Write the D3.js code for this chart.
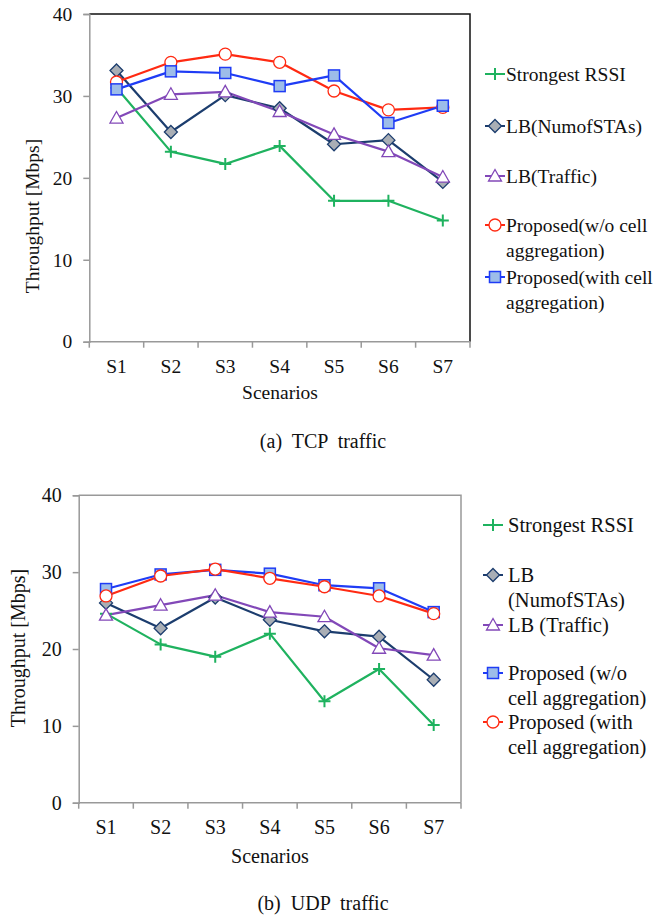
<!DOCTYPE html>
<html>
<head>
<meta charset="utf-8">
<script src="https://cdn.jsdelivr.net/npm/d3@7"></script>
<style>
  html, body { margin: 0; padding: 0; background: #fff; }
  svg { display: block; font-family: "Liberation Serif", "Times New Roman", serif; }
  svg text { font-family: "Liberation Serif", "Times New Roman", serif; }
</style>
</head>
<body>
<svg id="fig" width="653" height="916"></svg>
<script>
// Scenarios on the x axis and throughput ticks on the y axis
const scenarios = ["S1", "S2", "S3", "S4", "S5", "S6", "S7"];
const yTicks = [0, 10, 20, 30, 40];

// (a) TCP traffic, throughput in Mbps
const tcpStrongest = [31.0, 23.2, 21.7, 23.9, 17.2, 17.2, 14.8];
const tcpLbSta     = [33.1, 25.6, 30.1, 28.5, 24.1, 24.6, 19.5];
const tcpLbTraffic = [27.3, 30.2, 30.5, 28.1, 25.3, 23.2, 20.1];
const tcpPropNoAgg = [31.7, 34.1, 35.1, 34.1, 30.6, 28.3, 28.6];
const tcpPropAgg   = [30.8, 33.0, 32.8, 31.2, 32.5, 26.7, 28.8];

// (b) UDP traffic, throughput in Mbps
const udpStrongest = [24.6, 20.6, 19.0, 22.0, 13.2, 17.4, 10.1];
const udpLbSta     = [26.0, 22.7, 26.7, 23.8, 22.3, 21.6, 16.0];
const udpLbTraffic = [24.4, 25.7, 27.0, 24.8, 24.2, 20.1, 19.2];
const udpPropNoAgg = [27.8, 29.7, 30.3, 29.8, 28.3, 27.9, 24.8];
const udpPropAgg   = [26.9, 29.5, 30.4, 29.2, 28.1, 26.9, 24.6];

const tcpLabels = [["Strongest RSSI"], ["LB(NumofSTAs)"], ["LB(Traffic)"],
  ["Proposed(w/o cell", "aggregation)"], ["Proposed(with cell", "aggregation)"]];
const udpLabels = [["Strongest RSSI"], ["LB", "(NumofSTAs)"], ["LB (Traffic)"],
  ["Proposed (w/o", "cell aggregation)"], ["Proposed (with", "cell aggregation)"]];

// marker styles
const STY = {
  plus:    { color: "#1fb25f", fill: "none" },
  diamond: { color: "#1c3d6e", fill: "#a9aeb5" },
  tri:     { color: "#8248b8", fill: "#ffffff" },
  circle:  { color: "#ff2a12", fill: "#ffffff" },
  square:  { color: "#1f3cf5", fill: "#9dbde9" }
};

const svg = d3.select("#fig");

function drawMarker(g, kind, x, y) {
  const s = STY[kind];
  if (kind === "plus") {
    g.append("path").attr("d", `M${x-6},${y}H${x+6}M${x},${y-6}V${y+6}`)
      .attr("stroke", s.color).attr("stroke-width", 2).attr("fill", "none");
  } else if (kind === "diamond") {
    g.append("path").attr("d", `M${x},${y-6.5}L${x+6.5},${y}L${x},${y+6.5}L${x-6.5},${y}Z`)
      .attr("stroke", s.color).attr("stroke-width", 1.3).attr("fill", s.fill);
  } else if (kind === "tri") {
    g.append("path").attr("d", `M${x},${y-6.5}L${x+6.5},${y+5}L${x-6.5},${y+5}Z`)
      .attr("stroke", s.color).attr("stroke-width", 1.3).attr("fill", s.fill);
  } else if (kind === "circle") {
    g.append("circle").attr("cx", x).attr("cy", y).attr("r", 6)
      .attr("stroke", s.color).attr("stroke-width", 1.3).attr("fill", s.fill);
  } else if (kind === "square") {
    g.append("rect").attr("x", x-5.5).attr("y", y-5.5).attr("width", 11).attr("height", 11)
      .attr("stroke", s.color).attr("stroke-width", 1.5).attr("fill", s.fill);
  }
}

function chart(cfg) {
  const g = svg.append("g");
  const x = d3.scaleBand().domain(scenarios).range([cfg.left, cfg.right]);
  const y = d3.scaleLinear().domain([0, 40]).range([cfg.bottom, cfg.top]);
  const FS = cfg.fs;

  // frame: top and right edges
  g.append("path")
    .attr("d", `M${cfg.left},${cfg.top}H${cfg.right}V${cfg.bottom}`)
    .attr("fill", "none").attr("stroke", cfg.frame).attr("stroke-width", 1.5);

  // y axis
  const ya = g.append("g").attr("transform", `translate(${cfg.left},0)`)
    .call(d3.axisLeft(y).tickValues(yTicks).tickSize(6).tickPadding(11));
  ya.attr("font-family", null);
  ya.select(".domain").attr("stroke", "#999").attr("stroke-width", 1.5);
  ya.selectAll(".tick line").attr("stroke", "#999").attr("stroke-width", 1.5);
  ya.selectAll("text").attr("font-size", FS).attr("fill", "#111");

  // x axis with ticks on band boundaries
  const xa = g.append("g").attr("transform", `translate(0,${cfg.bottom})`)
    .call(d3.axisBottom(x).tickSize(0).tickPadding(17));
  xa.attr("font-family", null);
  xa.select(".domain").attr("d", `M${cfg.left},0H${cfg.right}`).attr("stroke", "#999").attr("stroke-width", 1.5);
  xa.selectAll("text").attr("font-size", FS).attr("fill", "#111");
  const edges = scenarios.map(s => x(s)).concat([x(scenarios[scenarios.length - 1]) + x.bandwidth()]);
  xa.selectAll(".edge").data(edges).enter().append("line").attr("class", "edge")
    .attr("x1", d => d).attr("x2", d => d).attr("y1", 0).attr("y2", 6)
    .attr("stroke", "#999").attr("stroke-width", 1.5);

  // axis titles
  g.append("text").attr("x", cfg.xTitle[0]).attr("y", cfg.xTitle[1])
    .attr("text-anchor", "middle").attr("font-size", FS).attr("fill", "#111").text("Scenarios");
  g.append("text")
    .attr("transform", `translate(${cfg.yTitle[0]},${cfg.yTitle[1]}) rotate(-90)`)
    .attr("text-anchor", "middle").attr("dominant-baseline", "central")
    .attr("font-size", FS).attr("fill", "#111").text("Throughput [Mbps]");

  // series lines then markers
  const cx = s => x(s) + x.bandwidth() / 2;
  const line = d3.line().x((d, i) => cx(scenarios[i])).y(d => y(d));
  cfg.series.forEach(sr => {
    g.append("path").attr("d", line(sr.values)).attr("fill", "none")
      .attr("stroke", STY[sr.kind].color).attr("stroke-width", 2.2).attr("stroke-linejoin", "round");
  });
  cfg.series.forEach(sr => {
    const mg = g.append("g");
    sr.values.forEach((v, i) => drawMarker(mg, sr.kind, cx(scenarios[i]), y(v)));
  });

  // legend
  cfg.series.forEach((sr, k) => {
    const ly = cfg.legendY[k];
    const lx = cfg.legendX;
    g.append("line").attr("x1", lx).attr("x2", lx + 20).attr("y1", ly).attr("y2", ly)
      .attr("stroke", STY[sr.kind].color).attr("stroke-width", 2);
    drawMarker(g, sr.kind, lx + 10, ly);
    sr.label.forEach((t, j) => {
      g.append("text").attr("x", lx + cfg.legendGap).attr("y", ly + j * cfg.legendLine)
        .attr("dominant-baseline", "central").attr("font-size", cfg.legendFs).attr("fill", "#111").text(t);
    });
  });

  // caption
  g.append("text").attr("x", cfg.caption[0]).attr("y", cfg.caption[1])
    .attr("text-anchor", "middle").attr("font-size", 20).attr("fill", "#111")
    .attr("xml:space", "preserve").text(cfg.captionText);
}

chart({
  left: 89.3, right: 470, top: 14, bottom: 341.7, frame: "#111", fs: 19.5,
  xTitle: [280, 399], yTitle: [32, 216],
  legendX: 485, legendGap: 21, legendFs: 19.5, legendLine: 25, legendY: [74, 126, 176, 225, 277],
  caption: [323, 448], captionText: "(a)  TCP  traffic",
  series: [
    { kind: "plus", values: tcpStrongest, label: tcpLabels[0] },
    { kind: "diamond", values: tcpLbSta, label: tcpLabels[1] },
    { kind: "tri", values: tcpLbTraffic, label: tcpLabels[2] },
    { kind: "circle", values: tcpPropNoAgg, label: tcpLabels[3] },
    { kind: "square", values: tcpPropAgg, label: tcpLabels[4] }
  ]
});

chart({
  left: 78.7, right: 461, top: 495.3, bottom: 802.7, frame: "#999", fs: 20,
  xTitle: [270, 863], yTitle: [18.3, 648],
  legendX: 483, legendGap: 25, legendFs: 20.5, legendLine: 24.5, legendY: [525, 575, 625, 673, 722],
  caption: [323, 910], captionText: "(b)  UDP  traffic",
  series: [
    { kind: "plus", values: udpStrongest, label: udpLabels[0] },
    { kind: "diamond", values: udpLbSta, label: udpLabels[1] },
    { kind: "tri", values: udpLbTraffic, label: udpLabels[2] },
    { kind: "square", values: udpPropNoAgg, label: udpLabels[3] },
    { kind: "circle", values: udpPropAgg, label: udpLabels[4] }
  ]
});
</script>
</body>
</html>
